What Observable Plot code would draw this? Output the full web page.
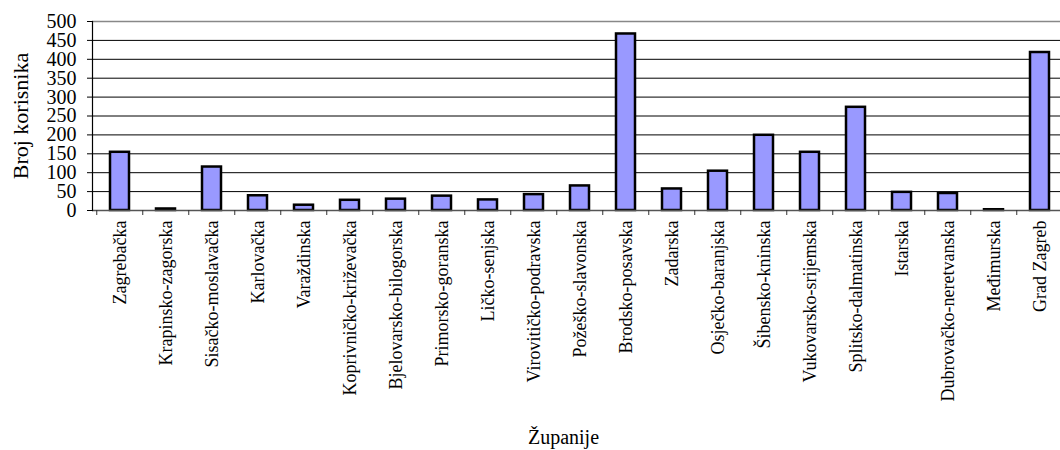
<!DOCTYPE html>
<html><head><meta charset="utf-8">
<script src="https://cdn.jsdelivr.net/npm/d3@7"></script>
<script src="https://cdn.jsdelivr.net/npm/@observablehq/plot@0.6"></script>
<style>
html,body{margin:0;padding:0;overflow:hidden;background:#fff}
#chart svg, #chart svg text { font-family: "Liberation Serif", "Times New Roman", serif !important; }
</style>
</head><body><div id="chart"></div>
<script>
const zupanije = ["Zagrebačka","Krapinsko-zagorska","Sisačko-moslavačka","Karlovačka","Varaždinska","Koprivničko-križevačka","Bjelovarsko-bilogorska","Primorsko-goranska","Ličko-senjska","Virovitičko-podravska","Požeško-slavonska","Brodsko-posavska","Zadarska","Osječko-baranjska","Šibensko-kninska","Vukovarsko-srijemska","Splitsko-dalmatinska","Istarska","Dubrovačko-neretvanska","Međimurska","Grad Zagreb"];
const korisnici = [154,4,115,39,14,27,30,38,28,42,65,467,57,104,199,154,273,48,45,2,418];
const yTicks = [0,50,100,150,200,250,300,350,400,450,500];
const yLabel = "Broj korisnika";
const xLabel = "Županije";

const data = zupanije.map((z, i) => ({z, v: korisnici[i]}));
const W = 1068, ML = 92, MR = 0;
const step = (W - ML - MR) / zupanije.length;

const chart = Plot.plot({
  width: W, height: 450,
  marginLeft: ML, marginRight: MR, marginTop: 21, marginBottom: 240,
  style: {fontSize: "20px", color: "#000", background: "#fff", maxWidth: "none", overflow: "visible"},
  x: {type: "band", domain: zupanije, paddingInner: 0.58, paddingOuter: 0.29, label: null},
  y: {domain: [0, 500], label: null},
  marks: [
    Plot.ruleY(yTicks.filter(t => t > 0 && t < 500), {stroke: "#000", strokeWidth: 1}),
    Plot.ruleY([500], {stroke: "#888", strokeWidth: 1.5}),
    Plot.barY(data, {x: "z", y: "v", fill: "#9999FF", stroke: "#000", strokeWidth: 2.5}),
    Plot.ruleY([0], {stroke: "#555", strokeWidth: 1.5}),
    Plot.ruleX(zupanije, {x: d => d, dx: -step / 2, y1: 0, y2: 0, insetBottom: -5, stroke: "#333"}),
    Plot.frame({anchor: "left", stroke: "#000", strokeWidth: 1.2}),
    Plot.axisY({ticks: yTicks, tickSize: 5, tickPadding: 11, label: null, fontSize: 20}),
    Plot.axisX({tickRotate: -90, tickSize: 0, tickPadding: 10, label: null, fontSize: 18}),
    Plot.text([yLabel], {frameAnchor: "left", textAnchor: "middle", lineAnchor: "middle", dx: -72, rotate: -90, fontSize: 22}),
    Plot.text([xLabel], {frameAnchor: "bottom", textAnchor: "middle", lineAnchor: "middle", dx: -17, dy: 227, fontSize: 20})
  ]
});
document.getElementById("chart").appendChild(chart);
</script>
</body></html>
